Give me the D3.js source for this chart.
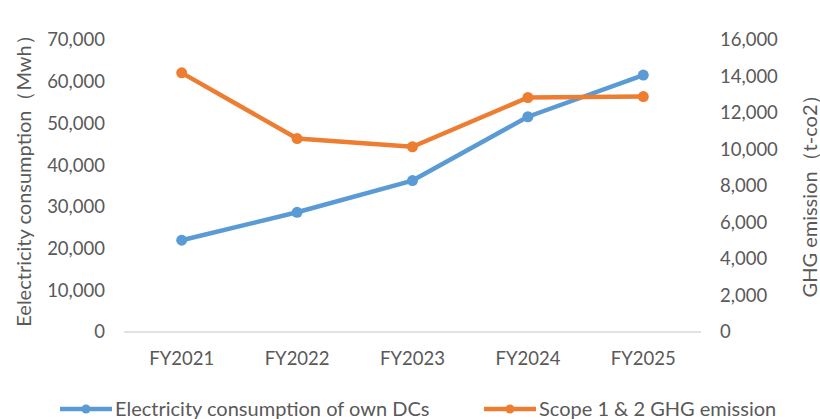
<!DOCTYPE html>
<html>
<head>
<meta charset="UTF-8">
<title>Electricity and GHG</title>
<script src="https://d3js.org/d3.v7.min.js"></script>
<style>
    body { margin: 0; background: #fff; }
    svg text { font-family: Lato, "Open Sans", sans-serif; fill: #595959; }
</style>
</head>
<body>
<svg width="820" height="419"></svg>
<script>
    var years = ["FY2021", "FY2022", "FY2023", "FY2024", "FY2025"];
    var electricity = [22000, 28700, 36300, 51600, 61600];
    var ghg = [14200, 10600, 10150, 12850, 12900];
    var leftTicks = [0, 10000, 20000, 30000, 40000, 50000, 60000, 70000];
    var rightTicks = [0, 2000, 4000, 6000, 8000, 10000, 12000, 14000, 16000];

    var svg = d3.select("svg");
    var plotLeft = 124, plotRight = 701, plotTop = 40, plotBottom = 332;
    var fmt = d3.format(",");

    var x = d3.scaleBand().domain(years).range([plotLeft, plotRight]);
    var yL = d3.scaleLinear().domain([0, 70000]).range([plotBottom, plotTop]);
    var yR = d3.scaleLinear().domain([0, 16000]).range([plotBottom, plotTop]);

    // baseline
    svg.append("line")
        .attr("x1", plotLeft).attr("x2", plotRight)
        .attr("y1", plotBottom).attr("y2", plotBottom)
        .attr("stroke", "#d9d9d9").attr("stroke-width", 1.3);

    // axes, no domain line or ticks, only labels
    var gl = svg.append("g").attr("transform", "translate(105,0)")
        .call(d3.axisLeft(yL).tickValues(leftTicks).tickFormat(fmt).tickSize(0).tickPadding(0));
    gl.select(".domain").remove();

    var gr = svg.append("g").attr("transform", "translate(720,0)")
        .call(d3.axisRight(yR).tickValues(rightTicks).tickFormat(fmt).tickSize(0).tickPadding(0));
    gr.select(".domain").remove();

    var gx = svg.append("g").attr("transform", "translate(0," + plotBottom + ")")
        .call(d3.axisBottom(x).tickSize(0).tickPadding(20));
    gx.select(".domain").remove();

    svg.selectAll(".tick text")
        .attr("font-family", "Lato, sans-serif")
        .attr("font-size", 18.5)
        .attr("fill", "#595959");

    // axis titles
    svg.append("text")
        .attr("transform", "translate(31,176) rotate(-90)")
        .attr("text-anchor", "middle")
        .attr("font-size", 20)
        .text("Eelectricity consumption（Mwh）");

    svg.append("text")
        .attr("transform", "translate(817,191) rotate(-90)")
        .attr("text-anchor", "middle")
        .attr("font-size", 20)
        .text("GHG emission（t-co2）");

    var series = [
        { name: "Electricity consumption of own DCs", values: electricity, y: yL, color: "#5b9bd5" },
        { name: "Scope 1 & 2 GHG emission", values: ghg, y: yR, color: "#ed7d31" }
    ];

    series.forEach(function (s) {
        var line = d3.line()
            .x(function (d, i) { return x(years[i]) + x.bandwidth() / 2; })
            .y(function (d) { return s.y(d); });

        svg.append("path")
            .datum(s.values)
            .attr("d", line)
            .attr("fill", "none")
            .attr("stroke", s.color)
            .attr("stroke-width", 4.5)
            .attr("stroke-linejoin", "round");

        svg.append("g").selectAll("circle")
            .data(s.values)
            .enter().append("circle")
            .attr("cx", function (d, i) { return x(years[i]) + x.bandwidth() / 2; })
            .attr("cy", function (d) { return s.y(d); })
            .attr("r", 5.5)
            .attr("fill", s.color);
    });

    // legend
    var legendX = [60, 484];
    var legend = svg.append("g").selectAll("g")
        .data(series)
        .enter().append("g")
        .attr("transform", function (d, i) { return "translate(" + legendX[i] + ",409)"; });

    legend.append("line")
        .attr("x1", 0).attr("x2", 52)
        .attr("stroke", function (d) { return d.color; })
        .attr("stroke-width", 4.5);
    legend.append("circle")
        .attr("cx", 26).attr("r", 4.5)
        .attr("fill", function (d) { return d.color; });
    legend.append("text")
        .attr("x", 55).attr("dy", "0.35em")
        .attr("font-size", 20)
        .text(function (d) { return d.name; });
</script>
</body>
</html>
